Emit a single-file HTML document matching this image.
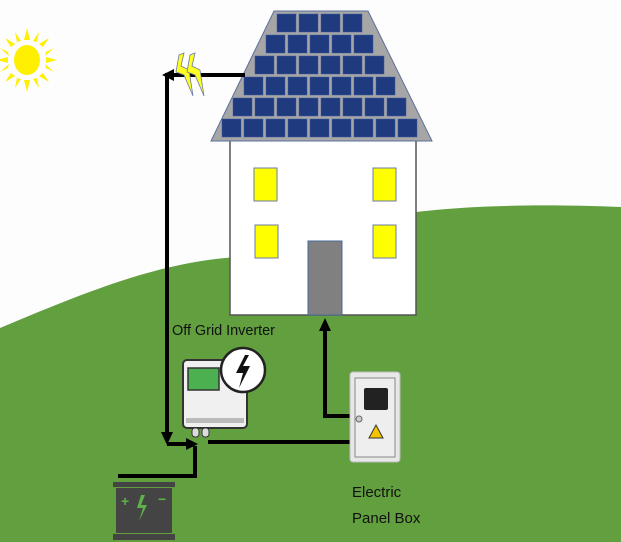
<!DOCTYPE html>
<html><head><meta charset="utf-8"><style>
html,body{margin:0;padding:0;background:#fff;}
svg{display:block;}
text{font-family:"Liberation Sans",sans-serif;}
</style></head><body>
<svg width="621" height="542" viewBox="0 0 621 542" xmlns="http://www.w3.org/2000/svg">
<rect width="621" height="542" fill="#fdfdfe"/>
<!-- hill -->
<path d="M0,328 C90,290 160,262 238,257 C300,240 350,222 400,214 C450,207 520,203 621,207 L621,542 L0,542 Z" fill="#62a03f"/>
<!-- sun -->
<g fill="#ffef00">
<ellipse cx="27" cy="60" rx="13" ry="15"/>
<polygon points="24,40 27,28 30,40"/><polygon points="24,80 27,92 30,80"/>
<polygon points="8,57 -3,60 8,63"/><polygon points="46,57 57,60 46,63"/>
<polygon points="11,47 5,38 15,44"/><polygon points="43,47 49,38 39,44"/>
<polygon points="11,73 5,82 15,76"/><polygon points="43,73 49,82 39,76"/>
<polygon points="17,42 15,32 21,41"/><polygon points="37,42 39,32 33,41"/>
<polygon points="17,78 15,88 21,79"/><polygon points="37,78 39,88 33,79"/>
<polygon points="8,52 0,48 9,56"/><polygon points="46,52 54,48 45,56"/>
<polygon points="8,68 0,72 9,64"/><polygon points="46,68 54,72 45,64"/>
</g>
<!-- house -->
<rect x="230" y="140" width="186" height="175" fill="#fff" stroke="#555" stroke-width="1.5"/>
<g fill="#ffff00" stroke="#6a7ba8" stroke-width="1">
<rect x="254" y="168" width="23" height="33"/><rect x="373" y="168" width="23" height="33"/>
<rect x="255" y="225" width="23" height="33"/><rect x="373" y="225" width="23" height="33"/>
</g>
<rect x="308" y="241" width="34" height="74" fill="#808080" stroke="#4a6a9a" stroke-width="1"/>
<!-- roof -->
<polygon points="274,11 368,11 432,141 211,141" fill="#a6a6a6" stroke="#5a6f9a" stroke-width="1"/>
<g fill="#1f3a7f" stroke="#3a5aa0" stroke-width="0.5">
<rect x="277" y="14" width="19" height="18"/><rect x="299" y="14" width="19" height="18"/><rect x="321" y="14" width="19" height="18"/><rect x="343" y="14" width="19" height="18"/>
<rect x="266" y="35" width="19" height="18"/><rect x="288" y="35" width="19" height="18"/><rect x="310" y="35" width="19" height="18"/><rect x="332" y="35" width="19" height="18"/><rect x="354" y="35" width="19" height="18"/>
<rect x="255" y="56" width="19" height="18"/><rect x="277" y="56" width="19" height="18"/><rect x="299" y="56" width="19" height="18"/><rect x="321" y="56" width="19" height="18"/><rect x="343" y="56" width="19" height="18"/><rect x="365" y="56" width="19" height="18"/>
<rect x="244" y="77" width="19" height="18"/><rect x="266" y="77" width="19" height="18"/><rect x="288" y="77" width="19" height="18"/><rect x="310" y="77" width="19" height="18"/><rect x="332" y="77" width="19" height="18"/><rect x="354" y="77" width="19" height="18"/><rect x="376" y="77" width="19" height="18"/>
<rect x="233" y="98" width="19" height="18"/><rect x="255" y="98" width="19" height="18"/><rect x="277" y="98" width="19" height="18"/><rect x="299" y="98" width="19" height="18"/><rect x="321" y="98" width="19" height="18"/><rect x="343" y="98" width="19" height="18"/><rect x="365" y="98" width="19" height="18"/><rect x="387" y="98" width="19" height="18"/>
<rect x="222" y="119" width="19" height="18"/><rect x="244" y="119" width="19" height="18"/><rect x="266" y="119" width="19" height="18"/><rect x="288" y="119" width="19" height="18"/><rect x="310" y="119" width="19" height="18"/><rect x="332" y="119" width="19" height="18"/><rect x="354" y="119" width="19" height="18"/><rect x="376" y="119" width="19" height="18"/><rect x="398" y="119" width="19" height="18"/>
</g>
<!-- wires -->
<g stroke="#000" stroke-width="4" fill="none">
<polyline points="245,75 167,75 167,434"/>
<polyline points="167,444 188,444"/>
<polyline points="118,476 195,476 195,446"/>
<polyline points="208,442 350,442"/>
<polyline points="350,416 325,416 325,330"/>
</g>
<g fill="#000">
<polygon points="162,75 174,69 174,81"/>
<polygon points="161,432 173,432 167,445"/>
<polygon points="186,438 186,450 198,444"/>
<polygon points="319,331 331,331 325,318"/>
</g>
<!-- lightning bolts -->
<g fill="#ffff20" stroke="#6a7ba8" stroke-width="0.8">
<polygon points="179,55 184,53 181,66 189,70 193,96 184,75 176,72"/>
<polygon points="190,55 195,53 192,66 200,70 204,96 195,75 187,72"/>
</g>
<!-- inverter -->
<rect x="183" y="360" width="64" height="68" rx="4" fill="#f0f0f0" stroke="#333" stroke-width="2"/>
<rect x="188" y="368" width="31" height="22" fill="#4caf50" stroke="#333" stroke-width="1.5"/>
<rect x="186" y="418" width="58" height="5" fill="#bbb"/>
<rect x="192" y="428" width="7" height="9" rx="3" fill="#ddd" stroke="#333" stroke-width="1"/>
<rect x="202" y="428" width="7" height="9" rx="3" fill="#ddd" stroke="#333" stroke-width="1"/>
<circle cx="243" cy="370" r="22" fill="#fff" stroke="#222" stroke-width="2.5"/>
<polygon points="245,355 236,373 243,373 239,388 250,366 243,366 249,355" fill="#111"/>
<text x="172" y="335" font-size="14.5" fill="#111" textLength="103">Off Grid Inverter</text>
<!-- panel box -->
<rect x="350" y="372" width="50" height="90" rx="3" fill="#e8e8e8" stroke="#bbb" stroke-width="1"/>
<rect x="355" y="378" width="40" height="79" fill="#eeeeee" stroke="#888" stroke-width="1"/>
<rect x="364" y="388" width="24" height="22" rx="2" fill="#222"/>
<circle cx="359" cy="419" r="3" fill="#ccc" stroke="#666" stroke-width="1"/>
<polygon points="376,425 369,438 383,438" fill="#f5c400" stroke="#333" stroke-width="1"/>
<text x="352" y="497" font-size="15" fill="#111">Electric</text>
<text x="352" y="523" font-size="15" fill="#111">Panel Box</text>
<!-- battery -->
<rect x="113" y="482" width="62" height="5" fill="#444"/>
<rect x="116" y="488" width="56" height="45" fill="#444"/>
<rect x="113" y="534" width="62" height="6" fill="#444"/>
<text x="121" y="506" font-size="14" font-weight="bold" fill="#5fb04a">+</text>
<text x="158" y="504" font-size="14" font-weight="bold" fill="#5fb04a">−</text>
<polygon points="141,495 137,508 143,508 139,521 147,505 141,505 145,495" fill="#5fb04a"/>
</svg>
</body></html>
